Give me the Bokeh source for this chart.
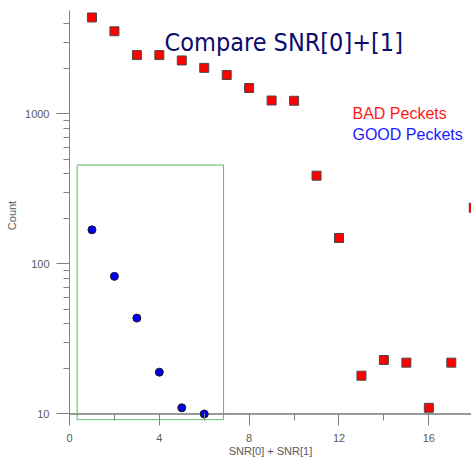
from bokeh.plotting import figure
from bokeh.models import (Range1d, SingleIntervalTicker, FixedTicker, PrintfTickFormatter,
                          Span, BoxAnnotation, Label)
from bokeh.embed import file_html
from bokeh.resources import INLINE

# data
bad_x = [1, 2, 3, 4, 5, 6, 7, 8, 9, 10, 11, 12, 13, 14, 15, 16, 17, 18]
bad_y = [4400, 3560, 2470, 2470, 2275, 2030, 1820, 1490, 1230, 1225, 388, 149, 18, 22.9, 22, 11, 22, 237]
good_x = [1, 2, 3, 4, 5, 6]
good_y = [169, 82.7, 43.6, 19, 11, 10]
title_text = "Compare SNR[0]+[1]"
bad_label = "BAD Peckets"
good_label = "GOOD Peckets"
x_title = "SNR[0] + SNR[1]"
y_title = "Count"
y_major = [10, 100, 1000]
y_minor = [20, 30, 40, 50, 60, 70, 80, 90, 200, 300, 400, 500, 600, 700, 800, 900,
           2000, 3000, 4000]

p = figure(width=471, height=459, y_axis_type="log", output_backend="svg",
           toolbar_location=None, x_range=Range1d(0, 17.9), y_range=Range1d(9.05, 4897),
           min_border_left=69, min_border_right=0, min_border_top=10, min_border_bottom=39)
p.outline_line_color = None
p.xgrid.grid_line_color = None
p.ygrid.grid_line_color = None
p.background_fill_color = "white"

label_font = "Liberation Sans"
grey = "#5a5a5a"

# x axis
xa = p.xaxis[0]
xa.ticker = SingleIntervalTicker(interval=4, num_minor_ticks=2)
xa.axis_line_color = None
xa.major_tick_in = 7
xa.major_tick_out = 5
xa.minor_tick_in = 7
xa.minor_tick_out = 0
xa.major_tick_line_color = "#808080"
xa.minor_tick_line_color = "#808080"
xa.major_label_standoff = 8
xa.major_label_text_font = label_font
xa.major_label_text_font_size = "11px"
xa.major_label_text_color = grey
xa.axis_label = x_title
xa.axis_label_standoff = 0
xa.axis_label_text_font = label_font
xa.axis_label_text_font_size = "11px"
xa.axis_label_text_font_style = "normal"
xa.axis_label_text_color = grey

# y axis
ya = p.yaxis[0]
ya.ticker = FixedTicker(ticks=y_major, minor_ticks=y_minor)
ya.formatter = PrintfTickFormatter(format="%d")
ya.axis_line_color = "#808080"
ya.major_tick_line_color = "#808080"
ya.minor_tick_line_color = "#808080"
ya.major_tick_in = 0
ya.major_tick_out = 13
ya.minor_tick_in = 0
ya.minor_tick_out = 6
ya.major_label_standoff = 7
ya.major_label_text_font = label_font
ya.major_label_text_font_size = "11px"
ya.major_label_text_color = grey
ya.axis_label = y_title
ya.axis_label_standoff = 4
ya.axis_label_text_font = label_font
ya.axis_label_text_font_size = "11px"
ya.axis_label_text_font_style = "normal"
ya.axis_label_text_color = grey

# x axis line at y = 10
p.add_layout(Span(location=10, dimension="width", line_color="#333333", line_width=1,
                  level="underlay"))

# highlight box
p.add_layout(BoxAnnotation(left=0.34, right=6.86, bottom=9.16, top=457,
                           fill_alpha=0, line_color="#5cb85c", line_alpha=1.0, line_width=1))

p.scatter(bad_x, bad_y, marker="square", size=9, fill_color="#ff0000",
          line_color="#4a4a4a", line_width=1)
p.scatter(good_x, good_y, marker="circle", size=8, fill_color="#0000ee",
          line_color="#1a1a1a", line_width=1)

p.add_layout(Label(x=4.23, y=3000, text=title_text,
                   text_font="'DejaVu Sans Condensed', Roboto, sans-serif",
                   text_font_size="25px", text_color="#0c0c6c", text_baseline="alphabetic"))
p.add_layout(Label(x=12.6, y=1000, text=bad_label, text_font="Liberation Sans",
                   text_font_size="16px", text_color="#ff1a1a", text_baseline="alphabetic"))
p.add_layout(Label(x=12.6, y=728, text=good_label, text_font="Liberation Sans",
                   text_font_size="16px", text_color="#1a1aff", text_baseline="alphabetic"))

open("out.html", "w").write(file_html(p, INLINE))
